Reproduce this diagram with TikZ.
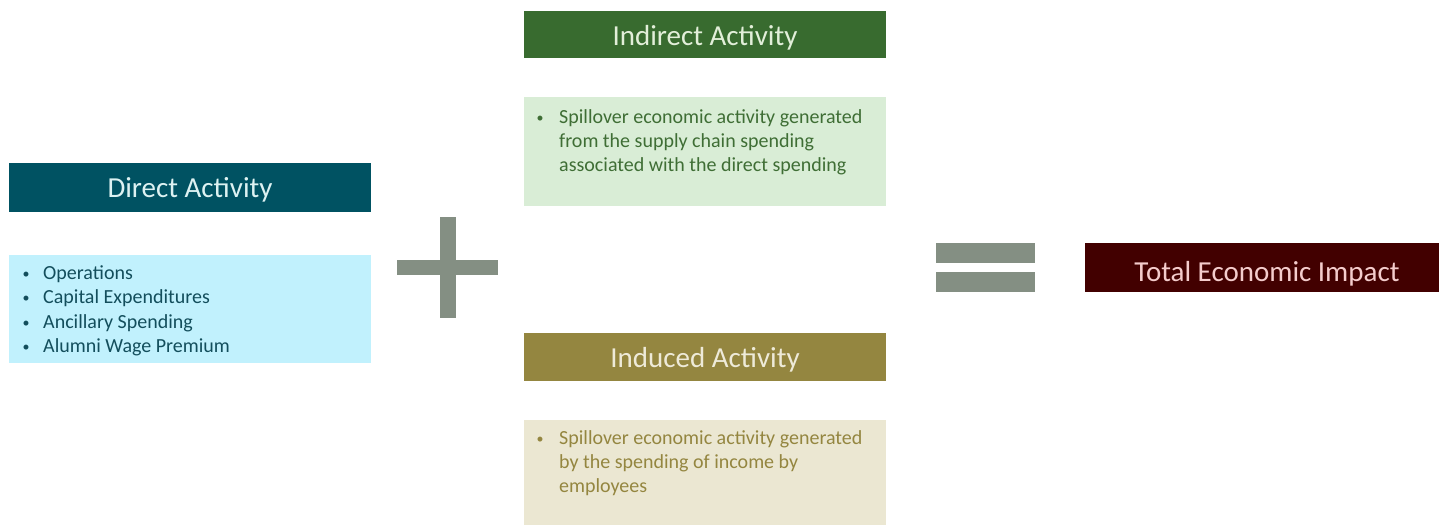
\documentclass[tikz,border=0pt]{standalone}
\usepackage{fontspec}
\setmainfont{Carlito}
\definecolor{dirH}{HTML}{005262}
\definecolor{dirHT}{HTML}{DDF2F2}
\definecolor{dirB}{HTML}{C1F1FD}
\definecolor{dirBT}{HTML}{134E5C}
\definecolor{indH}{HTML}{386B2F}
\definecolor{indHT}{HTML}{E2EFD9}
\definecolor{indB}{HTML}{D9EDD6}
\definecolor{indBT}{HTML}{3F6E35}
\definecolor{ducH}{HTML}{948640}
\definecolor{ducHT}{HTML}{EEEAD8}
\definecolor{ducB}{HTML}{EBE7D2}
\definecolor{ducBT}{HTML}{948640}
\definecolor{opC}{HTML}{848F83}
\definecolor{totH}{HTML}{420000}
\definecolor{totHT}{HTML}{F4CCCC}
\tikzset{
  boxshape/.style={draw=none, inner sep=0pt, minimum width=362pt, anchor=north west},
  headtxt/.style={font=\fontsize{29}{31}\selectfont, anchor=base},
  bodytxt/.style={font=\fontsize{20}{24}\selectfont, anchor=base west, inner sep=0pt, align=left},
  bul/.style={font=\fontsize{14}{16}\selectfont, anchor=base, inner sep=0pt},
}
\begin{document}
\begin{tikzpicture}[x=1pt,y=-1pt]
\useasboundingbox (0,0) rectangle (1439,525);
% Direct
\node[boxshape, fill=dirH, minimum height=49pt] (dh) at (9,163) {};
\node[headtxt, text=dirHT] (dht) at (190,197) {Direct Activity};
\node[boxshape, fill=dirB, minimum height=108pt] (db) at (9,255) {};
\node[bul, text=dirBT] (db1) at (26,278) {•};
\node[bul, text=dirBT] (db2) at (26,302) {•};
\node[bul, text=dirBT] (db3) at (26,327) {•};
\node[bul, text=dirBT] (db4) at (26,351) {•};
\node[bodytxt, text=dirBT] (dt1) at (43,279) {Operations};
\node[bodytxt, text=dirBT] (dt2) at (43,303) {Capital Expenditures};
\node[bodytxt, text=dirBT] (dt3) at (43,328) {Ancillary Spending};
\node[bodytxt, text=dirBT] (dt4) at (43,352) {Alumni Wage Premium};
% Plus
\fill[opC] (440,217) rectangle (456,318);
\fill[opC] (397,260) rectangle (498,275);
% Indirect
\node[boxshape, fill=indH, minimum height=47pt] (ih) at (524,11) {};
\node[headtxt, text=indHT] (iht) at (705,45) {Indirect Activity};
\node[boxshape, fill=indB, minimum height=109pt] (ib) at (524,97) {};
\node[bul, text=indBT] (ib1) at (540,122) {•};
\node[bodytxt, text=indBT] (it1) at (559,123) {Spillover economic activity generated};
\node[bodytxt, text=indBT] (it2) at (559,147) {from the supply chain spending};
\node[bodytxt, text=indBT] (it3) at (559,171) {associated with the direct spending};
% Induced
\node[boxshape, fill=ducH, minimum height=48pt] (uh) at (524,333) {};
\node[headtxt, text=ducHT] (uht) at (705,367) {Induced Activity};
\node[boxshape, fill=ducB, minimum height=105pt] (ub) at (524,420) {};
\node[bul, text=ducBT] (ub1) at (540,443) {•};
\node[bodytxt, text=ducBT] (ut1) at (559,444) {Spillover economic activity generated};
\node[bodytxt, text=ducBT] (ut2) at (559,468) {by the spending of income by};
\node[bodytxt, text=ducBT] (ut3) at (559,492) {employees};
% Equals
\fill[opC] (936,243) rectangle (1035,263);
\fill[opC] (936,272) rectangle (1035,292);
% Total
\node[boxshape, fill=totH, minimum width=354pt, minimum height=49pt] (th) at (1085,243) {};
\node[headtxt, text=totHT] (tht) at (1267,281) {Total Economic Impact};
\end{tikzpicture}
\end{document}
